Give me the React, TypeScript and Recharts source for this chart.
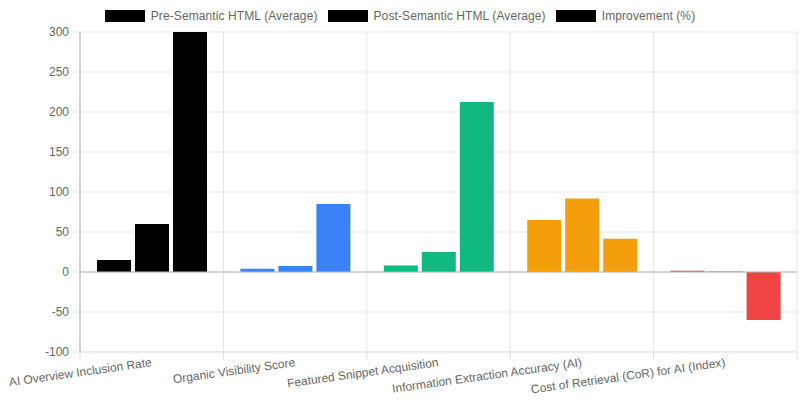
import { BarChart, Bar, XAxis, YAxis, CartesianGrid, ReferenceLine, Cell } from "recharts";

const categories = [
  "AI Overview Inclusion Rate",
  "Organic Visibility Score",
  "Featured Snippet Acquisition",
  "Information Extraction Accuracy (AI)",
  "Cost of Retrieval (CoR) for AI (Index)",
];
const preSemantic = [15, 4, 8, 65, 1.5];
const postSemantic = [60, 7.4, 25, 92, 0.6];
const improvement = [300, 85, 212.5, 41.5, -60];
const categoryColors = ["#000000", "#3b82f6", "#10b981", "#f59e0b", "#ef4444"];
const yTicks = [-100, -50, 0, 50, 100, 150, 200, 250, 300];
const seriesNames = ["Pre-Semantic HTML (Average)", "Post-Semantic HTML (Average)", "Improvement (%)"];

const W = 800;
const H = 400;
const MARGIN = { top: 32, right: 3, left: 0, bottom: 0 };
const Y_AXIS_W = 80;
const BAND = (W - Y_AXIS_W - MARGIN.right) / categories.length;
const FONT = '"Liberation Sans", Arial, sans-serif';

const data = categories.map((name, i) => ({
  name,
  pre: preSemantic[i],
  post: postSemantic[i],
  imp: improvement[i],
}));

function CategoryTick(props: any) {
  const { x, y, payload, index } = props;
  const ty = y + 11;
  return (
    <g>
      <line x1={x - BAND / 2} x2={x - BAND / 2} y1={y} y2={y + 8} stroke="#e0e0e0" />
      {index === categories.length - 1 && (
        <line x1={x + BAND / 2} x2={x + BAND / 2} y1={y} y2={y + 8} stroke="#e0e0e0" />
      )}
      <text
        x={x}
        y={ty}
        textAnchor="end"
        dominantBaseline="middle"
        transform={`rotate(-8, ${x}, ${ty})`}
        fill="#666"
        fontSize={12}
        fontFamily={FONT}
      >
        {payload.value}
      </text>
    </g>
  );
}

function TopLegend() {
  return (
    <div
      style={{
        position: "absolute",
        top: 9,
        left: 0,
        width: W,
        display: "flex",
        justifyContent: "center",
        alignItems: "center",
        fontFamily: FONT,
        fontSize: 12,
        color: "#666",
        letterSpacing: "0.1px",
      }}
    >
      {seriesNames.map((s) => (
        <div key={s} style={{ display: "flex", alignItems: "center", marginLeft: 5, marginRight: 5 }}>
          <div style={{ width: 40, height: 12, background: "#000" }} />
          <span style={{ marginLeft: 6, lineHeight: "14px" }}>{s}</span>
        </div>
      ))}
    </div>
  );
}

export default function App() {
  const gridX = ({ offset }: any) =>
    Array.from({ length: categories.length + 1 }, (_, i) => offset.left + (i * offset.width) / categories.length);

  return (
    <div style={{ position: "absolute", top: 0, left: 0, width: W, height: H, background: "#fff" }}>
      <TopLegend />
      <BarChart
        width={W}
        height={H}
        data={data}
        margin={MARGIN}
        barCategoryGap="10%"
        barGap={4}
        barSize={34}
      >
        <CartesianGrid stroke="#e5e5e5" verticalCoordinatesGenerator={gridX} />
        <XAxis
          dataKey="name"
          height={48}
          interval={0}
          tickLine={false}
          tickSize={0}
          tickMargin={0}
          axisLine={{ stroke: "#e5e5e5" }}
          tick={<CategoryTick />}
        />
        <YAxis
          width={Y_AXIS_W}
          domain={[-100, 300]}
          ticks={yTicks}
          allowDataOverflow
          tickSize={8}
          tickMargin={3}
          tickLine={{ stroke: "#e5e5e5" }}
          axisLine={{ stroke: "#c8c8c8", strokeWidth: 1.5 }}
          tick={{ fill: "#666", fontSize: 12, fontFamily: FONT }}
        />
        <ReferenceLine y={0} stroke="#b5b5b5" />
        <Bar dataKey="pre" name={seriesNames[0]} isAnimationActive={false}>
          {data.map((_, i) => (
            <Cell key={i} fill={categoryColors[i]} />
          ))}
        </Bar>
        <Bar dataKey="post" name={seriesNames[1]} isAnimationActive={false}>
          {data.map((_, i) => (
            <Cell key={i} fill={categoryColors[i]} />
          ))}
        </Bar>
        <Bar dataKey="imp" name={seriesNames[2]} isAnimationActive={false}>
          {data.map((_, i) => (
            <Cell key={i} fill={categoryColors[i]} />
          ))}
        </Bar>
      </BarChart>
    </div>
  );
}
